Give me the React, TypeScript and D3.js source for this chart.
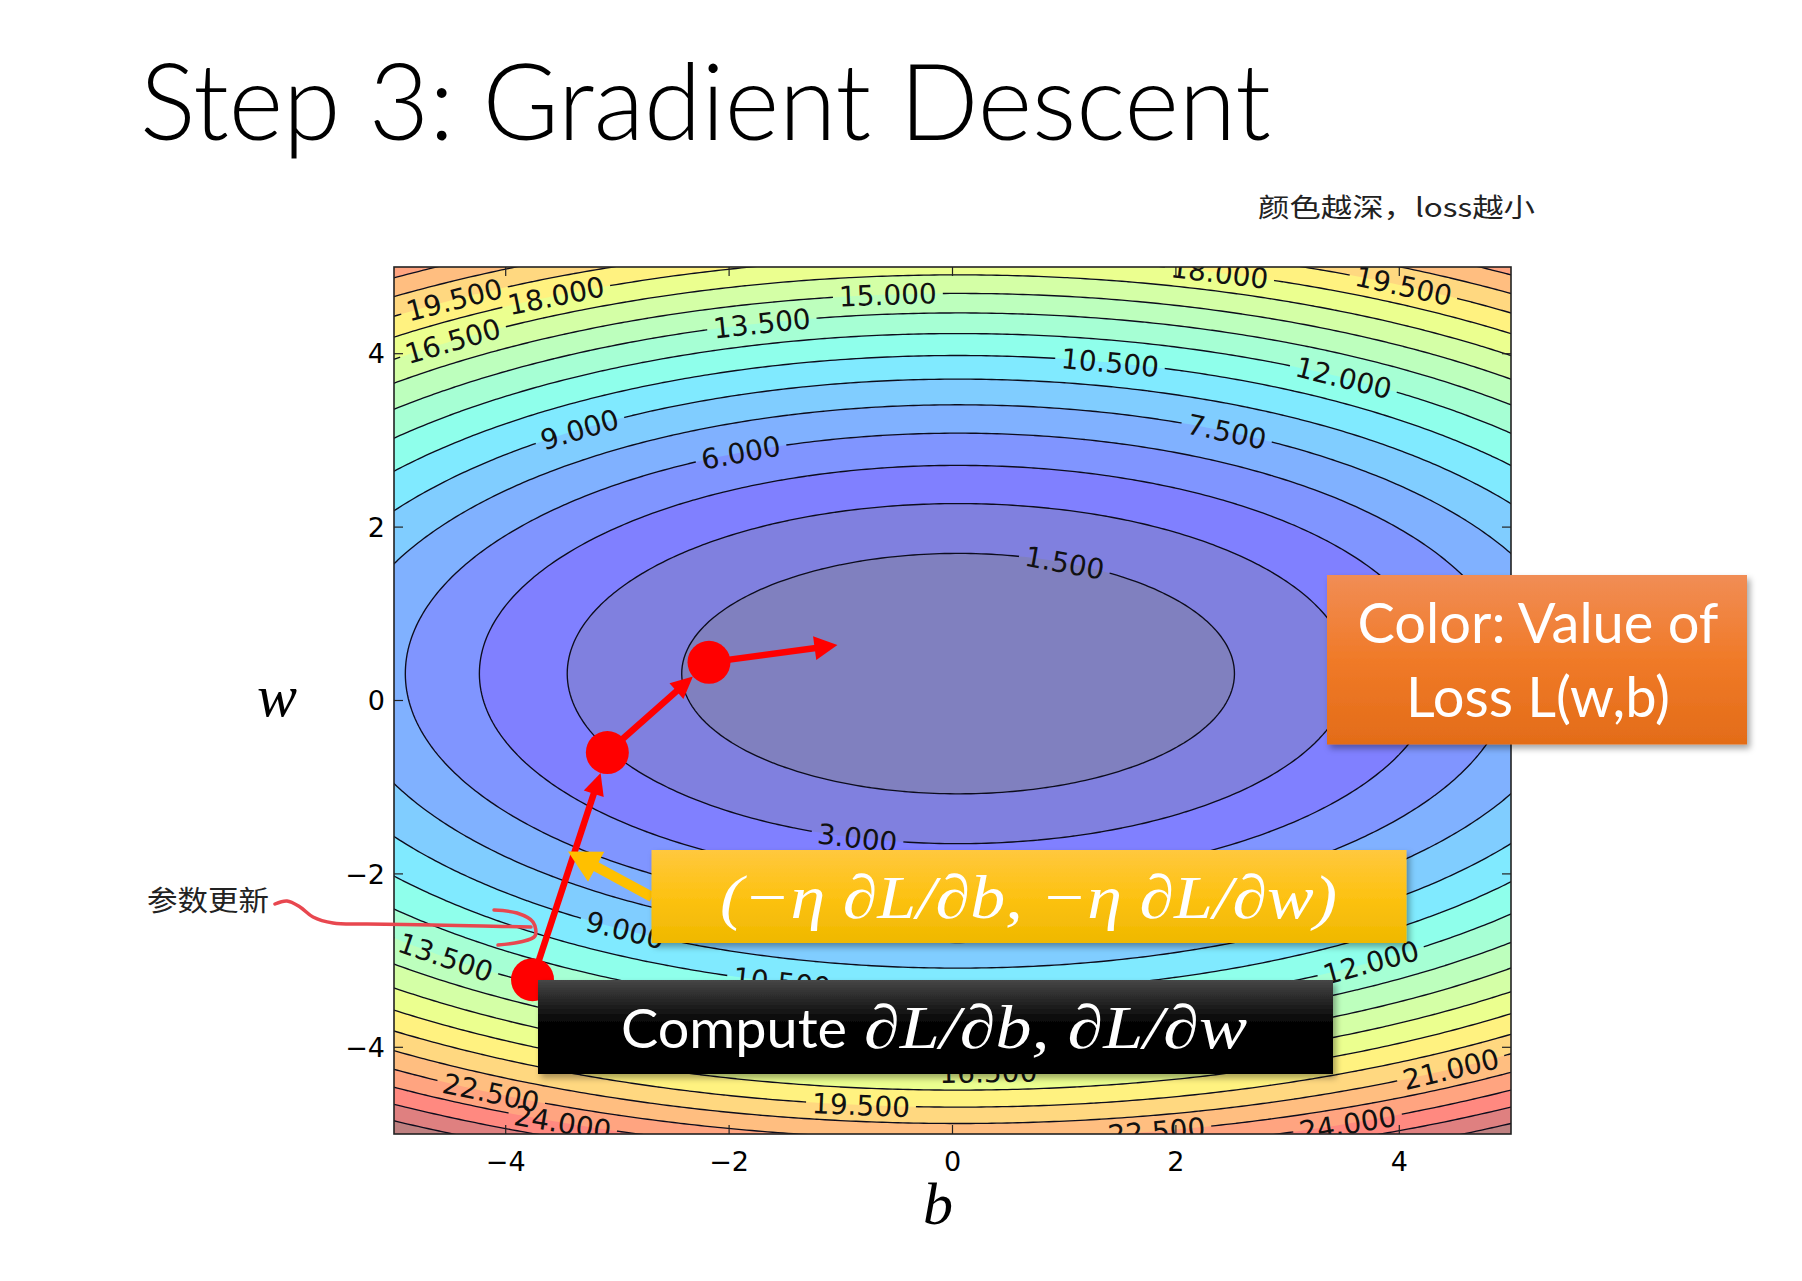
import React from 'react';
import * as d3 from 'd3';

// contour levels of the loss surface (matplotlib contourf, 1.5 apart)
const levels = [0, 1.5, 3, 4.5, 6, 7.5, 9, 10.5, 12, 13.5, 15, 16.5, 18, 19.5, 21, 22.5, 24, 25.5, 27, 28.5];

// loss surface: L = kb*(b-b0)^2 + kw*(w-w0)^2
const lossCenter = [0.05, 0.31];
const lossCurvature = [0.245, 0.78];

const xTicks = [-4, -2, 0, 2, 4];
const yTicks = [-4, -2, 0, 2, 4];

// inline contour labels: level and rough spot (b, w)
const labelLevels = [19.5, 18, 16.5, 15, 13.5, 18, 19.5, 10.5, 12, 9, 6, 7.5, 1.5, 3, 9, 13.5, 10.5, 12, 22.5, 24, 19.5, 16.5, 22.5, 24, 21];
const labelB = [-4.55, -3.64, -4.56, -0.59, -1.75, 2.4, 4.09, 1.43, 3.56, -3.39, -1.94, 2.48, 1.02, -0.83, -2.89, -4.55, -1.51, 3.69, -4.12, -3.49, -0.82, 0.32, 1.83, 3.53, 4.48];
const labelW = [4.71, 4.78, 4.22, 4.76, 4.45, 4.95, 4.84, 3.95, 3.78, 3.17, 2.92, 3.13, 1.61, -1.54, -2.61, -2.97, -3.21, -2.97, -4.51, -4.87, -4.67, -4.27, -4.98, -4.87, -4.27];

// gradient descent steps (b, w) and where the last arrow points
const stepB = [-3.76, -3.09, -2.18];
const stepW = [-3.22, -0.60, 0.44];
const nextB = -1.03;
const nextW = 0.64;

const jetR = [[0, 0], [0.35, 0], [0.66, 1], [0.89, 1], [1, 0.5]];
const jetG = [[0, 0], [0.125, 0], [0.375, 1], [0.64, 1], [0.91, 0], [1, 0]];
const jetB = [[0, 0.5], [0.11, 1], [0.34, 1], [0.65, 0], [1, 0]];

function piece(stops: number[][], t: number) {
  for (let i = 1; i < stops.length; i++) {
    if (t <= stops[i][0]) {
      const [t0, v0] = stops[i - 1];
      const [t1, v1] = stops[i];
      return v0 + (v1 - v0) * (t - t0) / (t1 - t0);
    }
  }
  return stops[stops.length - 1][1];
}

// jet at alpha .5 over white
function jet(t: number) {
  const c = (v: number) => Math.round(255 * (0.5 * v + 0.5));
  return `rgb(${c(piece(jetR, t))},${c(piece(jetG, t))},${c(piece(jetB, t))})`;
}

function loss(b: number, w: number) {
  return lossCurvature[0] * (b - lossCenter[0]) ** 2 + lossCurvature[1] * (w - lossCenter[1]) ** 2;
}

function arrow(x1: number, y1: number, x2: number, y2: number, headLen: number, headW: number) {
  const dx = x2 - x1, dy = y2 - y1;
  const len = Math.hypot(dx, dy);
  const ux = dx / len, uy = dy / len;
  const bx = x2 - ux * headLen, by = y2 - uy * headLen;
  const px = -uy * headW / 2, py = ux * headW / 2;
  return {
    shaftEnd: [x2 - ux * headLen * 0.7, y2 - uy * headLen * 0.7],
    head: `${x2},${y2} ${bx + px},${by + py} ${bx - px},${by - py}`,
  };
}

const dejavu = '"DejaVu Sans", sans-serif';
const serif = '"Liberation Serif", "DejaVu Serif", serif';
const lato = 'Lato, "Open Sans", sans-serif';
const cjk = '"Noto Sans CJK SC", sans-serif';

export default function App() {
  const plot = { left: 394, right: 1511, top: 267, bottom: 1134 };
  const x = d3.scaleLinear().domain([-5, 5]).range([plot.left, plot.right]);
  const y = d3.scaleLinear().domain([-5, 5]).range([plot.bottom, plot.top]);
  const sx = x(1) - x(0);
  const sy = y(0) - y(1);

  // grid a bit larger than the axes so the grid border falls outside the clip
  const ext = 5.6;
  const n = 240;
  const cell = (2 * ext) / n;
  const values = new Array(n * n);
  for (let j = 0; j < n; j++) {
    for (let i = 0; i < n; i++) {
      values[j * n + i] = loss(-ext + (i + 0.5) * cell, ext - (j + 0.5) * cell);
    }
  }
  const contours = d3.contours().size([n, n]).thresholds(levels)(values);
  const proj = d3.geoTransform({
    point(gx: number, gy: number) {
      this.stream.point(x(-ext + gx * cell), y(ext - gy * cell));
    },
  });
  const path = d3.geoPath(proj);
  const nBands = levels.length - 1;

  const fontSize = 28;
  const labels = labelLevels.map((lv, i) => {
    const s = Math.sqrt(lv / loss(labelB[i], labelW[i]));
    const b = lossCenter[0] + s * (labelB[i] - lossCenter[0]);
    const w = lossCenter[1] + s * (labelW[i] - lossCenter[1]);
    const gb = 2 * lossCurvature[0] * (b - lossCenter[0]);
    const gw = 2 * lossCurvature[1] * (w - lossCenter[1]);
    let ang = Math.atan2(gb * sy, gw * sx) * 180 / Math.PI;
    if (ang > 90) ang -= 180;
    if (ang < -90) ang += 180;
    const text = lv.toFixed(3);
    const em = (text.length - 1) * 0.636 + 0.318;
    return { text, cx: x(b), cy: y(w), ang, width: em * fontSize };
  });

  const r = 21.5;
  const pts = stepB.map((b, i) => [x(b), y(stepW[i])]);
  const redArrows = pts.map((p, i) => {
    if (i < pts.length - 1) {
      const q = pts[i + 1];
      const d = Math.hypot(q[0] - p[0], q[1] - p[1]);
      return { p, a: arrow(p[0], p[1], q[0] - (q[0] - p[0]) / d * r, q[1] - (q[1] - p[1]) / d * r, 22, 21) };
    }
    return { p, a: arrow(p[0], p[1], x(nextB), y(nextW), 23, 24) };
  });

  const yellow = arrow(652, 897, 568, 851.5, 32, 34);

  const scribble = d3.line().curve(d3.curveCatmullRom)([
    [275, 904], [287, 901], [300, 907], [313, 917], [333, 923], [367, 924], [433, 925], [483, 926], [531, 927],
  ]);
  const hook = d3.line().curve(d3.curveCatmullRom)([
    [494, 910], [517, 913], [533, 922], [535, 936], [520, 942], [498, 945],
  ]);

  return (
    <svg width={1802} height={1281} style={{ position: 'absolute', left: 0, top: 0, background: '#fff' }}>
      <defs>
        <clipPath id="plotClip">
          <rect x={plot.left} y={plot.top} width={plot.right - plot.left} height={plot.bottom - plot.top} />
        </clipPath>
        <mask id="labelGap" maskUnits="userSpaceOnUse" x={0} y={0} width={1802} height={1281}>
          <rect x={0} y={0} width={1802} height={1281} fill="#fff" />
          {labels.map((l, i) => (
            <rect key={i} x={-l.width / 2 - 6} y={-fontSize * 0.45} width={l.width + 12} height={fontSize * 0.9}
              fill="#000" transform={`translate(${l.cx},${l.cy}) rotate(${l.ang})`} />
          ))}
        </mask>
        <linearGradient id="orangeGrad" x1="0" y1="0" x2="0" y2="1">
          <stop offset="0" stopColor="#f18d55" />
          <stop offset="0.5" stopColor="#f07a28" />
          <stop offset="1" stopColor="#e36c18" />
        </linearGradient>
        <linearGradient id="yellowGrad" x1="0" y1="0" x2="0" y2="1">
          <stop offset="0" stopColor="#ffc83e" />
          <stop offset="0.5" stopColor="#fdc212" />
          <stop offset="1" stopColor="#efb800" />
        </linearGradient>
        <linearGradient id="blackGrad" x1="0" y1="0" x2="0" y2="1">
          <stop offset="0" stopColor="#464646" />
          <stop offset="0.45" stopColor="#050505" />
          <stop offset="1" stopColor="#000" />
        </linearGradient>
        <filter id="shadow" x="-10%" y="-20%" width="125%" height="150%">
          <feDropShadow dx="3" dy="4" stdDeviation="3" floodColor="#000" floodOpacity="0.35" />
        </filter>
      </defs>

      <text x={140} y={140} fontFamily={lato} fontWeight={300} fontSize={106} fill="#000"
        textLength={1131} lengthAdjust="spacingAndGlyphs">Step 3: Gradient Descent</text>

      <text x={1258} y={217} fontFamily={cjk} fontSize={26} fill="#222"
        textLength={277} lengthAdjust="spacingAndGlyphs">颜色越深，loss越小</text>

      <g clipPath="url(#plotClip)">
        {contours.map((c, i) => (
          <path key={i} d={path(c as any) || ''} fill={jet(Math.min(i, nBands - 1) / (nBands - 1))} stroke="none" />
        ))}
        <g mask="url(#labelGap)">
          {contours.slice(1).map((c, i) => (
            <path key={i} d={path(c as any) || ''} fill="none" stroke="#0c0c1c" strokeWidth={1.35} />
          ))}
        </g>
        {labels.map((l, i) => (
          <text key={i} transform={`translate(${l.cx},${l.cy}) rotate(${l.ang})`} textAnchor="middle" dy="0.36em"
            fontFamily={dejavu} fontSize={fontSize} fill="#111">{l.text}</text>
        ))}
      </g>

      <rect x={plot.left} y={plot.top} width={plot.right - plot.left} height={plot.bottom - plot.top}
        fill="none" stroke="#222" strokeWidth={1.6} />
      {xTicks.map(t => (
        <g key={`x${t}`}>
          <line x1={x(t)} x2={x(t)} y1={plot.bottom} y2={plot.bottom - 9} stroke="#222" strokeWidth={1.2} />
          <line x1={x(t)} x2={x(t)} y1={plot.top} y2={plot.top + 9} stroke="#222" strokeWidth={1.2} />
          <text x={x(t)} y={1171} textAnchor="middle" fontFamily={dejavu} fontSize={27} fill="#000">
            {t < 0 ? `\u2212${-t}` : t}
          </text>
        </g>
      ))}
      {yTicks.map(t => (
        <g key={`y${t}`}>
          <line x1={plot.left} x2={plot.left + 9} y1={y(t)} y2={y(t)} stroke="#222" strokeWidth={1.2} />
          <line x1={plot.right} x2={plot.right - 9} y1={y(t)} y2={y(t)} stroke="#222" strokeWidth={1.2} />
          <text x={385} y={y(t)} dy="0.36em" textAnchor="end" fontFamily={dejavu} fontSize={27} fill="#000">
            {t < 0 ? `\u2212${-t}` : t}
          </text>
        </g>
      ))}

      <text x={277} y={716} textAnchor="middle" fontFamily={serif} fontStyle="italic" fontSize={60} fill="#000">w</text>
      <text x={938} y={1224} textAnchor="middle" fontFamily={serif} fontStyle="italic" fontSize={60} fill="#000">b</text>

      {/* descent path */}
      {redArrows.map((ra, i) => (
        <g key={i}>
          <line x1={ra.p[0]} y1={ra.p[1]} x2={ra.a.shaftEnd[0]} y2={ra.a.shaftEnd[1]} stroke="#ff0000" strokeWidth={6.5} />
          <polygon points={ra.a.head} fill="#ff0000" />
        </g>
      ))}
      {pts.map((p, i) => <circle key={i} cx={p[0]} cy={p[1]} r={r} fill="#ff0000" />)}

      {/* hand drawn note */}
      <text x={147} y={911} fontFamily={cjk} fontSize={28} fill="#222" textLength={122} lengthAdjust="spacingAndGlyphs">参数更新</text>
      <path d={scribble || ''} fill="none" stroke="#e8474f" strokeWidth={3.5} strokeLinecap="round" />
      <path d={hook || ''} fill="none" stroke="#e8474f" strokeWidth={3.5} strokeLinecap="round" />

      <line x1={652} y1={897} x2={yellow.shaftEnd[0]} y2={yellow.shaftEnd[1]} stroke="#ffc000" strokeWidth={10} />
      <polygon points={yellow.head} fill="#ffc000" />

      <g filter="url(#shadow)">
        <rect x={651.5} y={850} width={755} height={93} fill="url(#yellowGrad)" />
      </g>
      <text x={720} y={918} fontFamily={serif} fontStyle="italic" fontSize={62} fill="#fff"
        textLength={617} lengthAdjust="spacingAndGlyphs">(−η ∂L/∂b, −η ∂L/∂w)</text>

      <g filter="url(#shadow)">
        <rect x={538} y={980} width={795} height={94} fill="url(#blackGrad)" />
      </g>
      <text x={621} y={1048} fontFamily={lato} fontSize={54} fill="#fff"
        textLength={226} lengthAdjust="spacingAndGlyphs">Compute</text>
      <text x={864} y={1048} fontFamily={serif} fontStyle="italic" fontSize={62} fill="#fff"
        textLength={383} lengthAdjust="spacingAndGlyphs">∂L/∂b, ∂L/∂w</text>

      <g filter="url(#shadow)">
        <rect x={1327} y={575} width={420} height={169.5} fill="url(#orangeGrad)" />
      </g>
      <text x={1538} y={643} textAnchor="middle" fontFamily={lato} fontSize={56} fill="#fff">Color: Value of</text>
      <text x={1538} y={717} textAnchor="middle" fontFamily={lato} fontSize={56} fill="#fff">Loss L(w,b)</text>
    </svg>
  );
}
